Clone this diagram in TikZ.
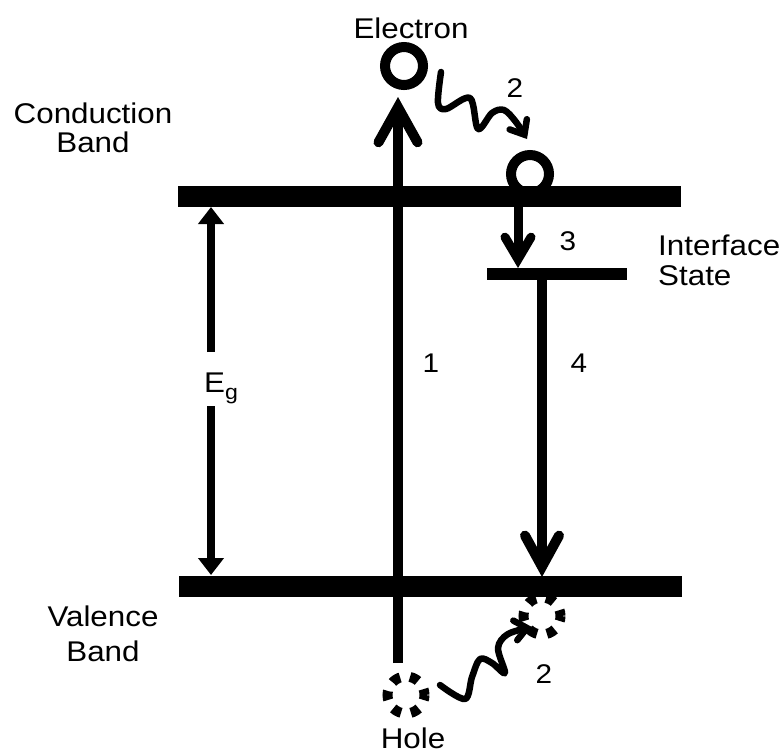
\documentclass[tikz,border=0pt]{standalone}
\usepackage{fontspec}
\setmainfont{Liberation Sans}
\newfontfamily\labfont[FakeStretch=1.1]{Liberation Sans}
\usetikzlibrary{arrows.meta}
\begin{document}
\begin{tikzpicture}[x=1pt,y=-1pt,
  band/.style={line width=21pt},
  lbl/.style={font=\labfont\fontsize{28.5}{29.5}\selectfont, inner sep=0pt},
  num/.style={font=\labfont\fontsize{27}{29}\selectfont, inner sep=0pt, anchor=base},
  bigarrow/.style={line width=10pt, -{Straight Barb[length=35pt,width=39pt,line cap=round]}},
  egarrow/.style={line width=8pt, -{Triangle[length=17pt,width=25pt]}},
  wavy/.style={line width=6.5pt, line cap=round, line join=round, -{Straight Barb[length=12pt,width=20pt,line cap=round]}},
  ring/.style={line width=10pt, draw, circle, minimum size=38pt, inner sep=0pt},
  hole/.style={line width=10pt, draw, circle, minimum size=37pt, inner sep=0pt, dash pattern=on 9pt off 10pt, dash phase=3pt},
]
\useasboundingbox (0,0) rectangle (784,753);
% bands
\coordinate (cbL) at (178,196.5);
\coordinate (cbR) at (681,196.5);
\coordinate (vbL) at (179,586);
\coordinate (vbR) at (682,586);
\draw[band] (cbL) -- (cbR);
\draw[band] (vbL) -- (vbR);
% interface state
\coordinate (isL) at (487,274);
\coordinate (isR) at (627,274);
\draw[line width=12pt] (isL) -- (isR);
% carriers
\node[ring] (e1) at (404,66) {};
\node[ring] (e2) at (530,174) {};
\node[hole] (h1) at (406,695) {};
\node[hole] (h2) at (542,616) {};
% arrow 1
\coordinate (a1s) at (398,663);
\coordinate (a1e) at (398,97);
\draw[bigarrow] (a1s) -- (a1e);
% arrow 3
\coordinate (a3s) at (518,207);
\coordinate (a3e) at (518,268);
\draw[line width=9pt, -{Straight Barb[length=22pt,width=26pt,line cap=round]}] (a3s) -- (a3e);
% arrow 4
\coordinate (a4s) at (542,280);
\coordinate (a4e) at (542,577);
\draw[line width=10pt, -{Straight Barb[length=31pt,width=34pt,line cap=round]}] (a4s) -- (a4e);
% Eg arrows
\coordinate (egT) at (211,207);
\coordinate (egT2) at (211,352);
\coordinate (egB2) at (211,406);
\coordinate (egB) at (211,575);
\draw[egarrow] (egT2) -- (egT);
\draw[egarrow] (egB2) -- (egB);
% wavy arrows
\draw[wavy] plot[smooth, tension=0.55] coordinates {(441,72) (438,103) (446,109) (470,98) (478,129) (492,113) (504,110) (516,122) (527,139)};
\draw[wavy] plot[smooth, tension=0.55] coordinates {(440,685) (465,699) (472,677) (480,659) (492,663) (505,673) (498,648) (508,634) (532,627)};
% labels
\node[lbl, align=center] (cb) at (93,128) {Conduction\\Band};
\node[lbl, align=center] (vb) at (103,634) {Valence\\[5pt]Band};
\node[lbl, align=left, anchor=north west] (is) at (658,235) {Interface\\State};
\node[lbl, anchor=base] (el) at (411,38) {Electron};
\node[lbl, anchor=base] (ho) at (413,748) {Hole};
\node[num] (n1) at (431,372) {1};
\node[num] (n4) at (579,372) {4};
\node[num] (n3) at (568,250) {3};
\node[num] (n2a) at (515,97) {2};
\node[num] (n2b) at (544,683) {2};
\node[lbl, anchor=base west] (eg) at (204,392) {E\raisebox{-7pt}{\fontsize{21}{21}\selectfont g}};
\end{tikzpicture}
\end{document}
